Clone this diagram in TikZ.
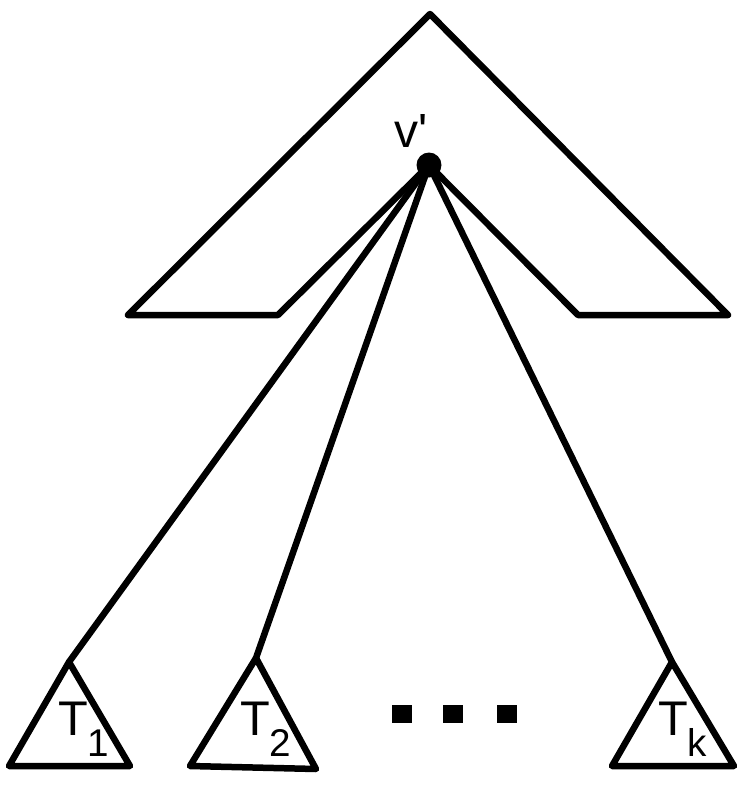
\documentclass[tikz,border=0pt]{standalone}
\usepackage{fontspec}
\setmainfont{Liberation Sans}
\newcommand{\tname}[1]{\fontsize{27.7}{28}\selectfont T\raisebox{-12.5pt}{\fontsize{22}{23}\selectfont #1}}

\begin{document}
\begin{tikzpicture}[x=0.02cm,y=-0.02cm,line width=3.7pt,line join=round,line cap=round,
	root/.style={circle,fill,inner sep=0pt,minimum size=0.5cm},
	lbl/.style={anchor=base west,inner sep=0pt},
	gap/.style={fill,inner sep=0pt,minimum width=0.4cm,minimum height=0.36cm}]
	\useasboundingbox (0,0) rectangle (745,785);
	% upper part
	\coordinate (top) at (430,14);
	\coordinate (ul) at (128,315);
	\coordinate (ulin) at (278,315);
	\coordinate (urin) at (578,315);
	\coordinate (ur) at (728,315);
	\node[root] (v) at (429,165) {};
	\node[lbl] (vlab) at (391,147) {\fontsize{27.3}{28}\selectfont v\textquotesingle};
	\draw (ul) -- (top) -- (ur) -- (urin) -- (v.center) -- (ulin) -- cycle;
	% subtrees
	\coordinate (t1) at (69,662);
	\coordinate (t1l) at (9,766);
	\coordinate (t1r) at (130,766);
	\coordinate (t2) at (256,658);
	\coordinate (t2l) at (190,766);
	\coordinate (t2r) at (316,769);
	\coordinate (tk) at (672,662);
	\coordinate (tkl) at (612,766);
	\coordinate (tkr) at (734,766);
	\draw (t1) -- (t1l) -- (t1r) -- cycle;
	\draw (t2) -- (t2l) -- (t2r) -- cycle;
	\draw (tk) -- (tkl) -- (tkr) -- cycle;
	\draw (v.center) -- (t1);
	\draw (v.center) -- (t2);
	\draw (v.center) -- (tk);
	\node[lbl] (lab1) at (55,735) {\tname{1}};
	\node[lbl] (lab2) at (237,735) {\tname{2}};
	\node[lbl] (labk) at (655,735) {\tname{k}};
	% dots
	\foreach \x/\n in {402/a,453/b,507/c}
		\node[gap] (dot\n) at (\x,714) {};
\end{tikzpicture}
\end{document}
